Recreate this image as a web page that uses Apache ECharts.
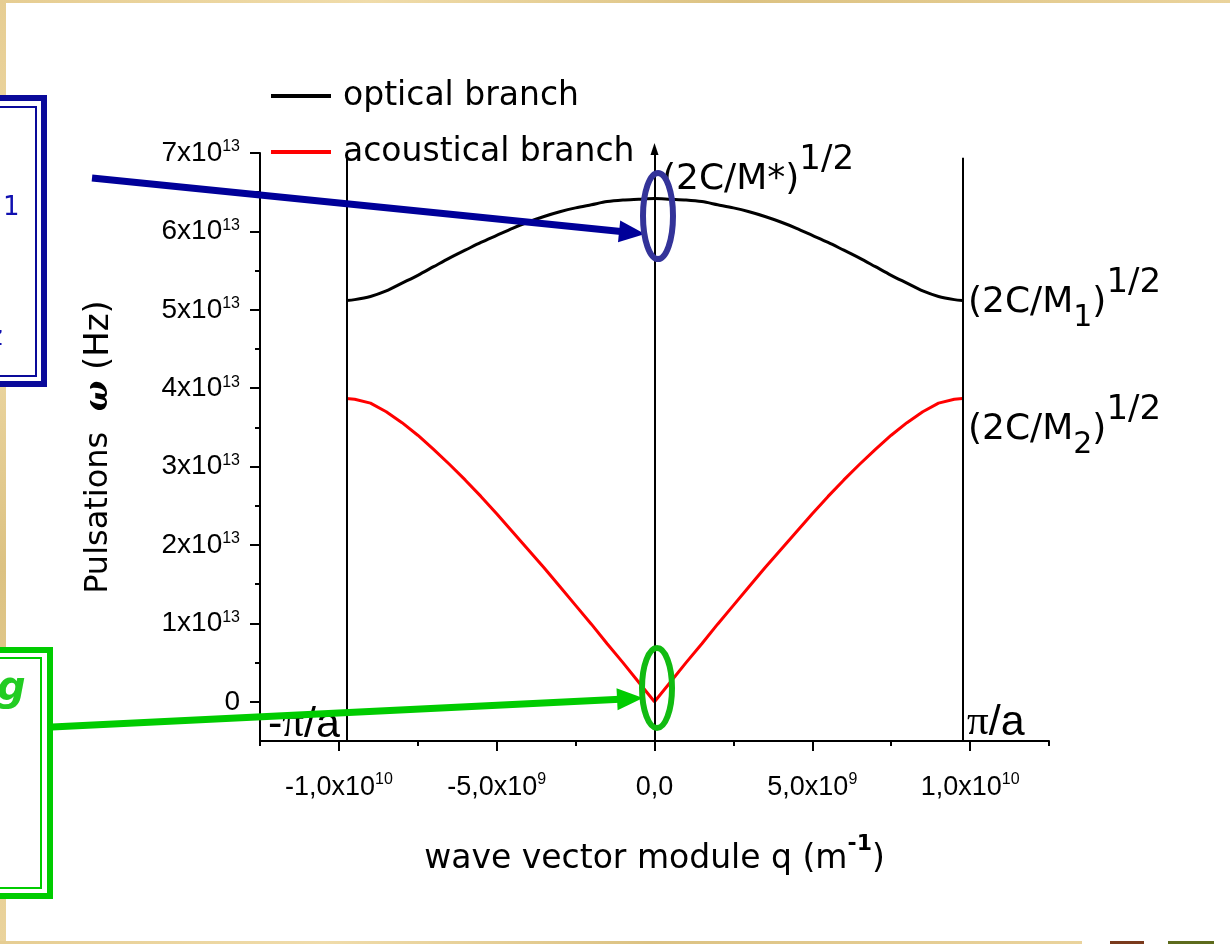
<!DOCTYPE html>
<html><head><meta charset="utf-8">
<script src="https://cdn.jsdelivr.net/npm/echarts@6/dist/echarts.min.js"></script>
<style>html,body{margin:0;padding:0;background:#fff;overflow:hidden}#c{width:1230px;height:944px}</style>
</head><body><div id="c"></div>
<script>
// wave vector q, in units of 1e9 m^-1
const qValues = [-9.76,-9.5,-9,-8.5,-8,-7.5,-7,-6.5,-6,-5.5,-5,-4.5,-4,-3.5,-3,-2.5,-2,-1.5,-1,-0.5,0,
  0.5,1,1.5,2,2.5,3,3.5,4,4.5,5,5.5,6,6.5,7,7.5,8,8.5,9,9.5,9.76];
// pulsation omega, in units of 1e13 Hz
const opticalBranch = [5.12,5.13,5.17,5.24,5.34,5.44,5.55,5.66,5.76,5.86,5.95,6.04,6.12,6.19,6.25,6.30,6.34,6.38,6.40,6.41,6.42,
  6.41,6.40,6.38,6.34,6.30,6.25,6.19,6.12,6.04,5.95,5.86,5.76,5.66,5.55,5.44,5.34,5.24,5.17,5.13,5.12];
const acousticalBranch = [3.87,3.86,3.81,3.70,3.56,3.40,3.22,3.03,2.83,2.62,2.40,2.17,1.94,1.71,1.47,1.23,0.99,0.74,0.50,0.25,0,
  0.25,0.50,0.74,0.99,1.23,1.47,1.71,1.94,2.17,2.40,2.62,2.83,3.03,3.22,3.40,3.56,3.70,3.81,3.86,3.87];
const zoneEdge = 9.76; // pi/a in 1e9 m^-1

const yTickValues = [0,1,2,3,4,5,6,7];
const yTickMain = ['0','1x10','2x10','3x10','4x10','5x10','6x10','7x10'];
const yTickExp = ['','13','13','13','13','13','13','13'];
const yMinorTicks = [0.5,1.5,2.5,3.5,4.5,5.5,6.5];
const xTickValues = [-10,-5,0,5,10];
const xTickMain = ['-1,0x10','-5,0x10','0,0','5,0x10','1,0x10'];
const xTickExp = ['10','9','','9','10'];
const xMinorTicks = [-12.5,-7.5,-2.5,2.5,7.5,12.5];

const comic = "'Comic Sans MS','DejaVu Sans',sans-serif";
const arial = "'Liberation Sans',Arial,sans-serif";

const chart = echarts.init(document.getElementById('c'));

function lbl(mainArr, expArr, vals) {
  return v => {
    const i = vals.findIndex(t => Math.abs(t - v) < 1e-9);
    if (i < 0) return '';
    return expArr[i] ? '{m|' + mainArr[i] + '}{s|' + expArr[i] + '}' : '{m|' + mainArr[i] + '}';
  };
}

const axisLineStyle = {color:'#000', width:2};

chart.setOption({
  animation: false,
  backgroundColor: '#fff',
  grid: {left:260, right:181, top:153, bottom:203, containLabel:false},
  legend: {
    orient:'vertical', left:266, top:71, itemWidth:60, itemHeight:4, itemGap:16, icon:'rect',
    selectedMode:false,
    textStyle:{fontFamily:comic, fontSize:33, color:'#000', lineHeight:40, padding:[0,0,0,7]},
    data:['optical branch','acoustical branch']
  },
  xAxis: [{
    type:'value', min:-12.5, max:12.5, position:'bottom',
    axisLine:{show:true, onZero:false, lineStyle:axisLineStyle},
    axisTick:{show:true, customValues:xTickValues, length:10, lineStyle:axisLineStyle},
    axisLabel:{show:true, customValues:xTickValues, margin:32, formatter:lbl(xTickMain,xTickExp,xTickValues),
      rich:{m:{fontFamily:arial, fontSize:27, lineHeight:30, color:'#000'},
            s:{fontFamily:arial, fontSize:16, height:14, lineHeight:14, verticalAlign:'top', color:'#000'}}},
    splitLine:{show:false},
    name:'{m|wave vector module q (m}{s|-1}{m|)}', nameLocation:'middle', nameGap:95,
    nameTextStyle:{rich:{m:{fontFamily:comic, fontSize:33, lineHeight:46, color:'#000'},
                         s:{fontFamily:comic, fontSize:22, fontWeight:'bold', height:16, lineHeight:16, verticalAlign:'top', color:'#000'}}}
  },{
    type:'value', min:-12.5, max:12.5, position:'bottom', offset:0,
    axisLine:{show:false, onZero:false},
    axisTick:{show:true, customValues:xMinorTicks, length:5, lineStyle:axisLineStyle},
    axisLabel:{show:false}, splitLine:{show:false}
  }],
  yAxis: [{
    type:'value', min:-0.5, max:7, position:'left',
    axisLine:{show:true, onZero:false, lineStyle:axisLineStyle},
    axisTick:{show:true, customValues:yTickValues, length:10, lineStyle:axisLineStyle},
    axisLabel:{show:true, customValues:yTickValues, margin:20, formatter:lbl(yTickMain,yTickExp,yTickValues),
      rich:{m:{fontFamily:arial, fontSize:28, lineHeight:28, color:'#000'},
            s:{fontFamily:arial, fontSize:16, height:16, lineHeight:16, verticalAlign:'top', color:'#000'}}},
    splitLine:{show:false},
    name:'{m|Pulsations  }{w|ω}{h| (Hz)}', nameLocation:'middle', nameRotate:90, nameGap:141,
    nameTextStyle:{rich:{m:{fontFamily:comic, fontSize:32, lineHeight:40, color:'#000'},
                         h:{fontFamily:comic, fontSize:34, lineHeight:40, color:'#000'},
                         w:{fontFamily:"'DejaVu Serif',serif", fontStyle:'italic', fontWeight:'bold', fontSize:32, lineHeight:40, color:'#000'}}}
  },{
    type:'value', min:-0.5, max:7, position:'left', offset:0,
    axisLine:{show:false, onZero:false},
    axisTick:{show:true, customValues:yMinorTicks, length:5, lineStyle:axisLineStyle},
    axisLabel:{show:false}, splitLine:{show:false}
  }],
  series: [{
    name:'optical branch', type:'line', xAxisIndex:0, yAxisIndex:0,
    data: qValues.map((q,i)=>[q, opticalBranch[i]]),
    symbol:'none', showSymbol:false, smooth:0.3, lineStyle:{color:'#000', width:3}, itemStyle:{color:'#000'}, z:3,
    emphasis:{disabled:true},
    markLine:{
      silent:true, symbol:['none','none'], label:{show:false}, animation:false,
      lineStyle:{color:'#000', width:2, type:'solid'}, emphasis:{disabled:true},
      data:[
        [{coord:[-zoneEdge,-0.5]},{coord:[-zoneEdge,6.94]}],
        [{coord:[zoneEdge,-0.5]},{coord:[zoneEdge,6.94]}],
        [{coord:[0,-0.5]},{coord:[0,7]}]
      ]
    }
  },{
    name:'acoustical branch', type:'line', xAxisIndex:0, yAxisIndex:0,
    data: qValues.map((q,i)=>[q, acousticalBranch[i]]),
    symbol:'none', showSymbol:false, lineStyle:{color:'#ff0000', width:3}, itemStyle:{color:'#ff0000'}, z:3,
    emphasis:{disabled:true}
  }]
});

// decorations
const top0 = chart.convertToPixel({xAxisIndex:0, yAxisIndex:0}, [0, 7]);
const beige = new echarts.graphic.LinearGradient(0,0,0,1,[
  {offset:0,color:'#e6cd92'},{offset:0.3,color:'#f0dcaa'},{offset:0.6,color:'#dcc282'},{offset:1,color:'#ead39c'}]);
const beigeH = new echarts.graphic.LinearGradient(0,0,1,0,[
  {offset:0,color:'#e6cd92'},{offset:0.3,color:'#f0dcaa'},{offset:0.6,color:'#dcc282'},{offset:1,color:'#ead39c'}]);

const elements = [
  {type:'rect', shape:{x:0,y:0,width:6,height:944}, style:{fill:beige}, z:1, silent:true},
  {type:'rect', shape:{x:0,y:0,width:1230,height:3}, style:{fill:beigeH}, z:1, silent:true},
  {type:'rect', shape:{x:0,y:941,width:1082,height:3}, style:{fill:beigeH}, z:1, silent:true},
  {type:'rect', shape:{x:1110,y:941,width:34,height:3}, style:{fill:'#7a3a1c'}, z:1, silent:true},
  {type:'rect', shape:{x:1168,y:941,width:46,height:3}, style:{fill:'#5d6b1c'}, z:1, silent:true},
  // blue box
  {type:'rect', shape:{x:-20,y:98,width:64,height:286}, style:{fill:'#fff', stroke:'#0a0a9a', lineWidth:6}, z:5, silent:true},
  {type:'rect', shape:{x:-20,y:107,width:56,height:269}, style:{fill:'none', stroke:'#0a0a9a', lineWidth:2}, z:5, silent:true},
  {type:'text', style:{x:3, y:208, text:'1', font:"26px 'DejaVu Sans'", fill:'#1010b0', verticalAlign:'middle'}, z:6, silent:true},
  {type:'text', style:{x:-11, y:338, text:'z', font:"26px 'DejaVu Sans'", fill:'#1010b0', verticalAlign:'middle'}, z:6, silent:true},
  // green box
  {type:'rect', shape:{x:-20,y:650,width:70,height:246}, style:{fill:'#fff', stroke:'#00cc00', lineWidth:6}, z:5, silent:true},
  {type:'rect', shape:{x:-20,y:658,width:61,height:230}, style:{fill:'none', stroke:'#00cc00', lineWidth:2}, z:5, silent:true},
  {type:'text', style:{x:-3, y:690, text:'g', font:"italic bold 40px 'DejaVu Sans'", fill:'#22cc22', verticalAlign:'middle'}, z:6, silent:true},
  // annotations
  {type:'text', style:{x:662, y:180, text:'{m|(2C/M*)}{p|1/2}', verticalAlign:'middle',
    rich:{m:{fontFamily:comic, fontSize:36, lineHeight:60, fill:'#000'}, p:{fontFamily:comic, fontSize:34, height:20, verticalAlign:'top', fill:'#000'}}}, z:20, silent:true},
  {type:'text', style:{x:968, y:303, text:'{m|(2C/M}{b|1}{m|)}{p|1/2}', verticalAlign:'middle',
    rich:{m:{fontFamily:comic, fontSize:36, lineHeight:60, fill:'#000'}, b:{fontFamily:comic, fontSize:30, height:30, verticalAlign:'bottom', fill:'#000'}, p:{fontFamily:comic, fontSize:34, height:20, verticalAlign:'top', fill:'#000'}}}, z:20, silent:true},
  {type:'text', style:{x:968, y:430, text:'{m|(2C/M}{b|2}{m|)}{p|1/2}', verticalAlign:'middle',
    rich:{m:{fontFamily:comic, fontSize:36, lineHeight:60, fill:'#000'}, b:{fontFamily:comic, fontSize:30, height:30, verticalAlign:'bottom', fill:'#000'}, p:{fontFamily:comic, fontSize:34, height:20, verticalAlign:'top', fill:'#000'}}}, z:20, silent:true},
  {type:'text', style:{x:268, y:725, text:'{a|-}{p|π}{a|/a}', verticalAlign:'middle',
    rich:{a:{fontFamily:arial, fontSize:43, fill:'#000'}, p:{fontFamily:"'Liberation Serif',serif", fontSize:43, fill:'#000'}}}, z:20, silent:true},
  {type:'text', style:{x:967, y:723, text:'{p|π}{a|/a}', verticalAlign:'middle',
    rich:{a:{fontFamily:arial, fontSize:43, fill:'#000'}, p:{fontFamily:"'Liberation Serif',serif", fontSize:43, fill:'#000'}}}, z:20, silent:true},
  // arrow on q=0 line
  {type:'polygon', shape:{points:[[top0[0],top0[1]-10],[top0[0]-4,top0[1]+2],[top0[0]+4,top0[1]+2]]}, style:{fill:'#000'}, z:20, silent:true},
  // blue arrow
  {type:'line', shape:{x1:92,y1:178,x2:621,y2:231.6}, style:{stroke:'#000099', lineWidth:7}, z:30, silent:true},
  {type:'polygon', shape:{points:[[645,234],[618,242.3],[620.2,220.4]]}, style:{fill:'#000099'}, z:30, silent:true},
  // green arrow
  {type:'line', shape:{x1:52,y1:727,x2:620,y2:699.2}, style:{stroke:'#00cc00', lineWidth:7}, z:30, silent:true},
  {type:'polygon', shape:{points:[[643,698],[617.6,710.3],[616.5,688.3]]}, style:{fill:'#00cc00'}, z:30, silent:true},
  // ellipses
  {type:'ellipse', shape:{cx:658, cy:216, rx:15, ry:43}, style:{fill:'none', stroke:'#333399', lineWidth:6}, z:31, silent:true},
  {type:'ellipse', shape:{cx:657, cy:688, rx:15, ry:40}, style:{fill:'none', stroke:'#11bb11', lineWidth:6}, z:31, silent:true}
];
chart.setOption({graphic:{elements:elements}});
</script>
</body></html>
